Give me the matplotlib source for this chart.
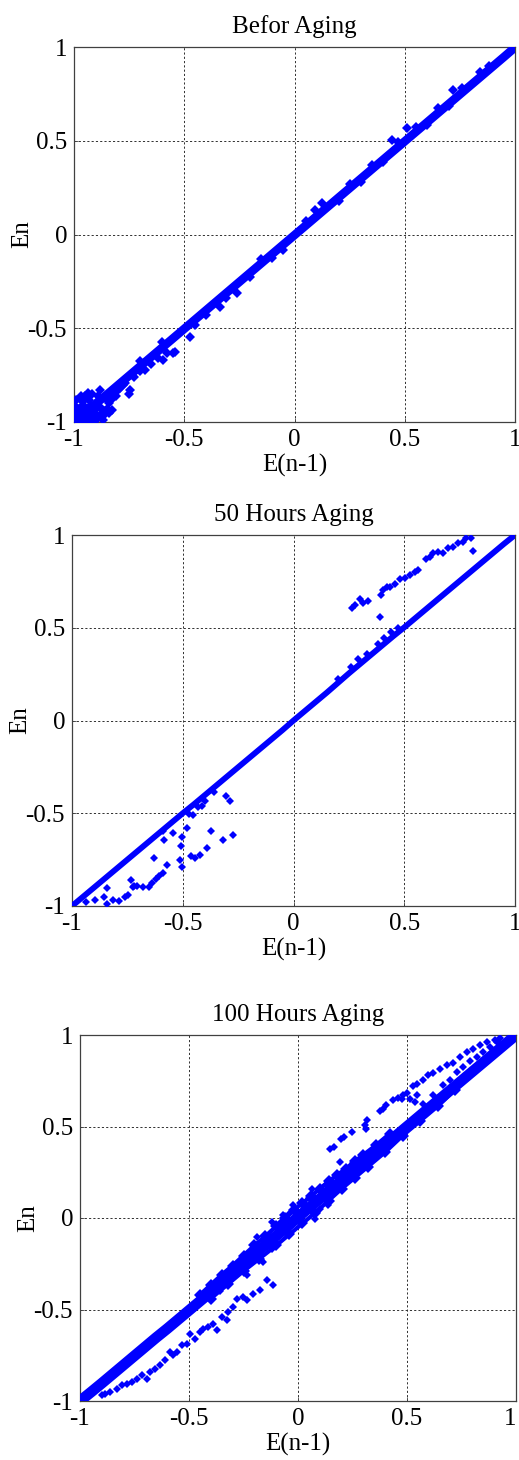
import matplotlib
matplotlib.use("Agg")
import matplotlib.pyplot as plt

plt.rcParams['font.family'] = ['Liberation Serif', 'DejaVu Serif']

# ---------------- data ----------------
titles = ["Befor Aging", "50 Hours Aging", "100 Hours Aging"]
x_label = "E(n-1)"
y_label = "En"
tick_vals = [-1, -0.5, 0, 0.5, 1]
tick_labels = ["-1", "-0.5", "0", "0.5", "1"]

band_x = [-1.00, -0.95, -0.90, -0.85, -0.80, -0.75, -0.70, -0.65, -0.60, -0.55,
          -0.50, -0.45, -0.40, -0.35, -0.30, -0.25, -0.20, -0.15, -0.10, -0.05,
          0.00, 0.05, 0.10, 0.15, 0.20, 0.25, 0.30, 0.35, 0.40, 0.45,
          0.50, 0.55, 0.60, 0.65, 0.70, 0.75, 0.80, 0.85, 0.90, 0.95, 1.00]

# Befor Aging
p1_band_y = [-0.995, -0.950, -0.902, -0.853, -0.803, -0.753, -0.703, -0.653, -0.603, -0.553,
             -0.503, -0.453, -0.403, -0.353, -0.303, -0.253, -0.203, -0.153, -0.103, -0.053,
             -0.003, 0.047, 0.097, 0.147, 0.197, 0.247, 0.297, 0.347, 0.397, 0.447,
             0.497, 0.547, 0.597, 0.647, 0.697, 0.747, 0.797, 0.847, 0.897, 0.947, 0.998]
p1_pts_x = [-0.99, -0.97, -0.95, -0.98, -0.96, -0.94, -0.92, -0.90, -0.93, -0.97,
            -0.88, -0.85, -0.84, -0.89, -0.86, -0.91, -0.95, -0.82, -0.80, -0.78,
            -0.75, -0.973, -0.936, -0.882, -0.746, -0.828, -0.964, -0.578, -0.542,
            -0.551, -0.596, -0.474, -0.338, -0.261, -0.052, 0.093, 0.125, 0.442,
            0.510, 0.719, 0.841, -0.99, -0.96, -0.93, -0.87,
            -0.99, -0.98, -0.96, -0.94, -0.92, -0.97, -0.95, -0.93, -0.91, -0.89,
            -0.87, -0.90, -0.88, -0.86, -0.99, -0.96, -0.94, -0.92, -0.84, -0.83,
            -0.81, -0.79, -0.77, -0.73, -0.70, -0.68, -0.65, -0.62, -0.99, -0.97,
            -0.45, -0.40, -0.31, -0.20, -0.10, 0.20, 0.30, 0.40, 0.60, 0.70,
            -0.70, -0.60, -0.15, 0.05, 0.25, 0.35, 0.47, 0.55, 0.65, 0.76, 0.88]
p1_pts_y = [-0.99, -0.97, -0.99, -0.93, -0.91, -0.95, -0.97, -0.93, -0.88, -0.88,
            -0.96, -0.93, -0.90, -0.86, -0.87, -1.00, -0.86, -0.84, -0.83, -0.80,
            -0.85, -0.872, -0.845, -0.829, -0.829, -0.936, -0.872, -0.632, -0.627,
            -0.632, -0.669, -0.547, -0.387, -0.312, -0.083, 0.131, 0.168, 0.504,
            0.568, 0.771, 0.867, -0.95, -1.00, -0.99, -0.99,
            -0.96, -1.00, -0.98, -1.00, -0.99, -0.94, -0.93, -0.92, -0.95, -0.98,
            -0.97, -0.90, -0.92, -0.94, -0.92, -0.89, -0.87, -0.85, -0.95, -0.88,
            -0.86, -0.82, -0.79, -0.76, -0.73, -0.72, -0.69, -0.66, -0.88, -0.86,
            -0.48, -0.43, -0.34, -0.225, -0.125, 0.18, 0.28, 0.385, 0.585, 0.685,
            -0.675, -0.575, -0.13, 0.07, 0.27, 0.37, 0.495, 0.575, 0.675, 0.78, 0.90]

# 50 Hours Aging
p2_band_y = [-1.000, -0.950, -0.900, -0.850, -0.800, -0.750, -0.700, -0.650, -0.600, -0.550,
             -0.500, -0.452, -0.402, -0.352, -0.302, -0.252, -0.202, -0.152, -0.102, -0.052,
             0.000, 0.050, 0.100, 0.150, 0.202, 0.254, 0.304, 0.354, 0.404, 0.454,
             0.502, 0.552, 0.602, 0.652, 0.702, 0.752, 0.802, 0.852, 0.902, 0.952, 1.000]
p2_pts_x = [0.262, 0.277, 0.299, 0.314, 0.337, 0.389, 0.397, 0.405, 0.420, 0.435,
            0.457, 0.480, 0.502, 0.525, 0.547, 0.562, 0.600, 0.615, 0.630, 0.653,
            0.675, 0.698, 0.720, 0.743, 0.765, 0.780, 0.803, 0.811,
            -0.287, -0.305, -0.374, -0.415, -0.453, -0.483, -0.505, -0.510, -0.513,
            -0.505, -0.465, -0.445, -0.423, -0.389, -0.320, -0.272, -0.588, -0.585,
            -0.543, -0.629, -0.573, -0.588, -0.606, -0.621, -0.641, -0.651, -0.678,
            -0.708, -0.726, -0.735, -0.719, -0.746, -0.761, -0.788, -0.814, -0.841,
            -0.856, -0.841, -0.896, -0.937,
            0.20, 0.26, 0.29, 0.33, 0.38, 0.41, 0.44, 0.47, -0.40, -0.43, -0.36, -0.47]
p2_pts_y = [0.605, 0.623, 0.653, 0.632, 0.646, 0.560, 0.677, 0.704, 0.718, 0.722,
            0.734, 0.761, 0.767, 0.785, 0.803, 0.811, 0.869, 0.883, 0.901, 0.910,
            0.901, 0.928, 0.937, 0.955, 0.964, 0.982, 0.986, 0.916,
            -0.436, -0.409, -0.598, -0.463, -0.508, -0.580, -0.628, -0.675, -0.750,
            -0.790, -0.733, -0.741, -0.724, -0.688, -0.646, -0.616, -0.598, -0.646,
            -0.607, -0.741, -0.777, -0.822, -0.840, -0.855, -0.876, -0.898, -0.898,
            -0.890, -0.898, -0.858, -0.894, -0.939, -0.952, -0.975, -0.969, -0.903,
            -0.952, -0.987, -0.966, -0.980,
            0.225, 0.290, 0.330, 0.360, 0.415, 0.445, 0.475, 0.500, -0.435, -0.465, -0.385, -0.505]

# 100 Hours Aging
p3_band_y = [-1.000, -0.952, -0.903, -0.853, -0.803, -0.753, -0.703, -0.653, -0.605, -0.555,
             -0.505, -0.455, -0.405, -0.352, -0.300, -0.250, -0.198, -0.148, -0.098, -0.048,
             0.005, 0.055, 0.105, 0.155, 0.205, 0.254, 0.302, 0.352, 0.400, 0.450,
             0.500, 0.550, 0.600, 0.650, 0.700, 0.750, 0.800, 0.850, 0.900, 0.950, 1.000]
p3_pts_x = [0.147, 0.165, 0.196, 0.211, 0.246, 0.307, 0.312, 0.315, 0.376, 0.391,
            0.404, 0.434, 0.460, 0.483, 0.502, 0.526, 0.547, 0.572, 0.598, 0.621,
            0.651, 0.682, 0.709, 0.743, 0.774, 0.804, 0.835, 0.869, 0.904, 0.927,
            0.537, 0.544, 0.514, 0.476,
            0.728, 0.758, 0.789, 0.820, 0.850, 0.881, 0.911, 0.575, 0.621, 0.667, 0.697,
            -0.113, -0.144, -0.174, -0.205, -0.235, -0.251, -0.281, -0.297, -0.320,
            -0.327, -0.350, -0.373, -0.388, -0.411, -0.434, -0.450, -0.472, -0.495,
            -0.511, -0.534, -0.557, -0.572, -0.587, -0.610, -0.633, -0.656, -0.679,
            -0.694, -0.717, -0.740, -0.763, -0.786, -0.809, -0.832, -0.862, -0.885, -0.901,
            -0.190, -0.067, -0.021, 0.063, 0.078, 0.139, 0.193, -0.121, -0.235, -0.159,
            -0.08, -0.04, 0.02, 0.05, 0.10, 0.13, 0.17, -0.12, -0.16, -0.30, -0.36, 0.25, 0.32]
p3_pts_y = [0.379, 0.388, 0.430, 0.441, 0.470, 0.510, 0.488, 0.534, 0.583, 0.597,
            0.619, 0.643, 0.656, 0.670, 0.685, 0.721, 0.732, 0.752, 0.780, 0.794,
            0.816, 0.834, 0.849, 0.880, 0.907, 0.925, 0.944, 0.962, 0.971, 0.984,
            0.634, 0.670, 0.652, 0.652,
            0.798, 0.825, 0.856, 0.880, 0.907, 0.934, 0.962, 0.625, 0.670, 0.725, 0.752,
            -0.368, -0.341, -0.395, -0.413, -0.450, -0.432, -0.441, -0.486, -0.514,
            -0.559, -0.541, -0.614, -0.577, -0.595, -0.605, -0.623, -0.659, -0.632,
            -0.687, -0.696, -0.732, -0.750, -0.732, -0.778, -0.805, -0.823, -0.842,
            -0.878, -0.860, -0.878, -0.896, -0.905, -0.914, -0.932, -0.951, -0.960, -0.969,
            -0.104, 0.015, 0.069, 0.160, -0.004, 0.069, 0.306, -0.022, -0.313, -0.240,
            -0.02, 0.02, -0.03, 0.11, 0.05, 0.18, 0.14, -0.17, -0.12, -0.33, -0.40, 0.30, 0.31]
# edges of the thick central cloud in the 100 h panel
p3_up_x = [-0.45, -0.40, -0.35, -0.30, -0.25, -0.20, -0.15, -0.10, -0.06, -0.02,
           0.02, 0.06, 0.10, 0.14, 0.18, 0.22, 0.26, 0.30, 0.36, 0.42]
p3_up_y = [-0.42, -0.365, -0.31, -0.26, -0.205, -0.15, -0.10, -0.045, 0.00, 0.045,
           0.08, 0.12, 0.16, 0.20, 0.235, 0.27, 0.31, 0.345, 0.40, 0.46]
p3_lo_x = [-0.40, -0.32, -0.25, -0.18, -0.10, -0.04, 0.02, 0.08, 0.14, 0.20,
           0.26, 0.32, 0.40, 0.48, 0.56, 0.64, 0.72]
p3_lo_y = [-0.44, -0.36, -0.29, -0.225, -0.15, -0.09, -0.03, 0.03, 0.095, 0.16,
           0.22, 0.28, 0.36, 0.45, 0.53, 0.61, 0.70]

bands = [p1_band_y, p2_band_y, p3_band_y]
pts_x = [p1_pts_x, p2_pts_x, p3_pts_x]
pts_y = [p1_pts_y, p2_pts_y, p3_pts_y]

# ---------------- layout ----------------
W, H = 519, 1460
fig = plt.figure(figsize=(W / 100, H / 100), dpi=100)
boxes = [(74, 47, 515, 422), (72, 535, 515, 906), (80, 1035, 516, 1401)]
band_lw = [6.2, 4.2, 7.8]
pt_ms = [4.8, 4.0, 4.0]
blue = (0, 0, 1)
FS = 18

for i, (l, t, r, b) in enumerate(boxes):
    ax = fig.add_axes([l / W, 1 - b / H, (r - l) / W, (b - t) / H])
    ax.plot(band_x, bands[i], '-', color=blue, lw=band_lw[i],
            solid_capstyle='round', zorder=3)
    ax.plot(pts_x[i], pts_y[i], 'D', color=blue, ms=pt_ms[i], mew=0,
            linestyle='none', zorder=4)
    if i == 2:
        ax.plot(p3_up_x, p3_up_y, 'D', color=blue, ms=6.0, mew=0,
                linestyle='-', lw=3, zorder=3)
        ax.plot(p3_lo_x, p3_lo_y, 'D', color=blue, ms=6.0, mew=0,
                linestyle='-', lw=3, zorder=3)
    ax.set_xlim(-1, 1)
    ax.set_ylim(-1, 1)
    ax.set_xticks(tick_vals)
    ax.set_yticks(tick_vals)
    ax.set_xticklabels(tick_labels, fontsize=FS)
    ax.set_yticklabels(tick_labels, fontsize=FS)
    if i == 2:
        ax.get_xticklabels()[-1].set_horizontalalignment('right')
    ax.tick_params(direction='in', length=3, width=0.6, color='#404040', pad=5)
    ax.grid(True, linestyle=(0, (2.2, 2.2)), color='#303030', linewidth=0.7)
    ax.set_axisbelow(True)
    for s in ax.spines.values():
        s.set_color('#404040')
        s.set_linewidth(0.9)
    ax.set_title(titles[i], fontsize=FS, pad=10)
    ax.set_xlabel(x_label, fontsize=FS, labelpad=2)
    ax.set_ylabel(y_label, fontsize=FS, labelpad=-4)

fig.savefig("out.png", dpi=100)
